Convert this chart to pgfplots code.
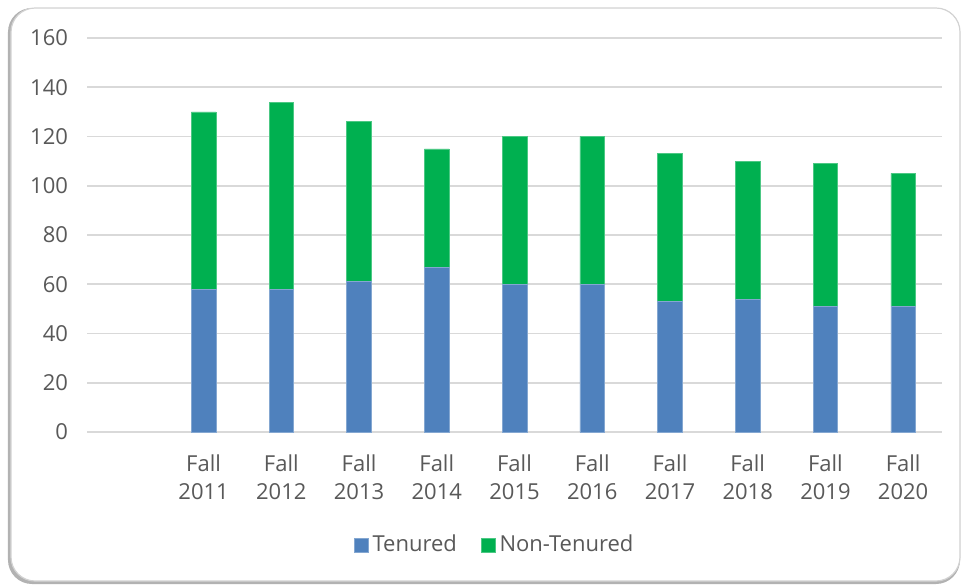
\documentclass[border=0pt]{standalone}
\usepackage{fontspec}
\setmainfont{Open Sans}
\usepackage{pgfplots}
\pgfplotsset{compat=1.18}
\definecolor{tenBlue}{HTML}{4F81BD}
\definecolor{nonGreen}{HTML}{00B050}
\definecolor{gridGray}{HTML}{D9D9D9}
\definecolor{txtGray}{HTML}{595959}

\begin{document}
\begin{tikzpicture}
% canvas and frame
\path (-43.5pt,-77pt) rectangle (438pt,216pt);
\fill[black!30, rounded corners=12pt] (-39.5pt,-76pt) rectangle (436.5pt,212pt);
\fill[white, draw=gray!35, line width=0.6pt, rounded corners=12pt] (-38pt,-74.5pt) rectangle (436.5pt,212pt);
\begin{axis}[
  scale only axis,
  width=427.5pt, height=197pt,
  ybar stacked,
  bar width=12.3pt,
  xmin=-0.5, xmax=10.5,
  ymin=0, ymax=160,
  ytick={0,20,...,160},
  xtick={1,...,10},
  xticklabels={Fall\\2011,Fall\\2012,Fall\\2013,Fall\\2014,Fall\\2015,Fall\\2016,Fall\\2017,Fall\\2018,Fall\\2019,Fall\\2020},
  font=\fontsize{11}{14}\selectfont,
  x tick label style={align=center, text=txtGray, yshift=-8pt},
  y tick label style={text=txtGray, xshift=-6pt},
  /pgf/number format/assume math mode=true,
  major tick length=0pt,
  axis x line*=bottom,
  axis y line*=left,
  y axis line style={draw=none},
  x axis line style={draw=gridGray, line width=0.8pt, -},
  ymajorgrids=true,
  grid style={draw=gridGray, line width=0.8pt},
  legend style={draw=none, at={(0.478,-0.287)}, anchor=center, legend columns=2,
    font=\fontsize{11}{14}\selectfont, text=txtGray,
    /tikz/every even column/.append style={column sep=10pt}},
  legend image code/.code={\fill[#1] (0pt,-3.5pt) rectangle (7pt,3.5pt);},
]
\addplot[fill=tenBlue, draw=tenBlue!70!white, line width=0.3pt] coordinates {
  (1,58) (2,58) (3,61) (4,67) (5,60) (6,60) (7,53) (8,54) (9,51) (10,51)};
\addplot[fill=nonGreen, draw=nonGreen!70!white, line width=0.3pt] coordinates {
  (1,72) (2,76) (3,65) (4,48) (5,60) (6,60) (7,60) (8,56) (9,58) (10,54)};
\legend{Tenured, Non-Tenured}
\end{axis}
\end{tikzpicture}
\end{document}
